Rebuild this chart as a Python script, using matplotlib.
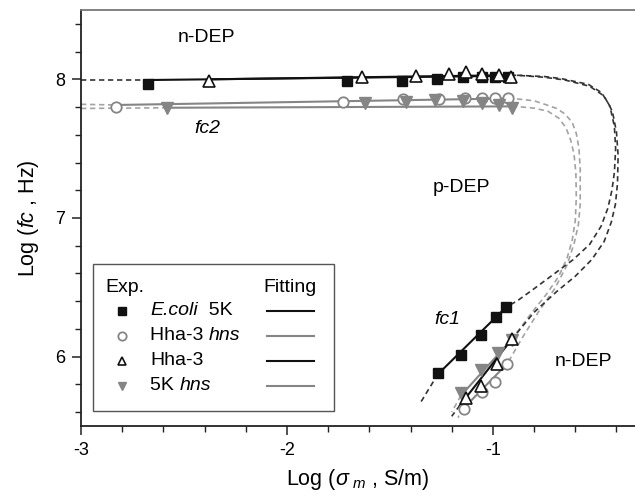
import matplotlib
matplotlib.use("Agg")
import matplotlib.pyplot as plt
from matplotlib.patches import Rectangle
from matplotlib.ticker import MultipleLocator

plt.rcParams["font.family"] = ["Liberation Sans", "DejaVu Sans"]
plt.rcParams["mathtext.fontset"] = "custom"
plt.rcParams["mathtext.rm"] = "Liberation Sans"
plt.rcParams["mathtext.it"] = "Liberation Sans:italic"
plt.rcParams["axes.unicode_minus"] = False

# ---- measured crossover points (log sigma_m, log fc) ----
# E.coli 5K
ecoli_up_x = [-2.676, -1.710, -1.443, -1.270, -1.147, -1.055, -0.990, -0.927]
ecoli_up_y = [7.964, 7.985, 7.990, 8.005, 8.020, 8.020, 8.020, 8.020]
ecoli_lo_x = [-1.266, -1.153, -1.056, -0.987, -0.934]
ecoli_lo_y = [5.882, 6.014, 6.154, 6.284, 6.356]

# Hha-3 hns
hhahns_up_x = [-2.829, -1.727, -1.438, -1.261, -1.137, -1.054, -0.992, -0.927]
hhahns_up_y = [7.803, 7.836, 7.856, 7.860, 7.865, 7.865, 7.865, 7.863]
hhahns_lo_x = [-1.141, -1.055, -0.990, -0.930]
hhahns_lo_y = [5.625, 5.744, 5.816, 5.946]

# Hha-3
hha_up_x = [-2.381, -1.634, -1.374, -1.212, -1.131, -1.055, -0.969, -0.913]
hha_up_y = [7.990, 8.015, 8.025, 8.040, 8.055, 8.040, 8.030, 8.020]
hha_lo_x = [-1.131, -1.058, -0.981, -0.908]
hha_lo_y = [5.700, 5.786, 5.950, 6.126]

# 5K hns
k5hns_up_x = [-2.583, -1.620, -1.424, -1.280, -1.147, -1.054, -0.972, -0.908]
k5hns_up_y = [7.795, 7.832, 7.835, 7.850, 7.843, 7.827, 7.812, 7.795]
k5hns_lo_x = [-1.155, -1.058, -0.973, -0.908]
k5hns_lo_y = [5.740, 5.906, 6.025, 6.123]

# ---- fitted curves ----
# solid part (inside the measured range)
ecoli_fit_up = ([-2.676, -0.927], [7.995, 8.025])
ecoli_fit_lo = ([-1.266, -0.934], [5.875, 6.360])
hhahns_fit_up = ([-2.829, -0.927], [7.815, 7.862])
hhahns_fit_lo = ([-1.141, -0.930], [5.630, 5.950])
hha_fit_up = ([-2.381, -0.913], [8.000, 8.030])
hha_fit_lo = ([-1.160, -0.908], [5.650, 6.126])
k5hns_fit_up = ([-2.583, -0.908], [7.795, 7.805])
k5hns_fit_lo = ([-1.155, -0.908], [5.720, 6.125])

# dashed part (extrapolated model)
ecoli_left = ([-3.0, -2.676], [7.995, 7.995])
ecoli_bend_x = [-0.927, -0.877, -0.750, -0.667, -0.537, -0.472, -0.432, -0.410,
                -0.404, -0.410, -0.422, -0.442, -0.475, -0.530, -0.610, -0.700,
                -0.800, -0.884, -0.934]
ecoli_bend_y = [8.025, 8.029, 8.020, 8.005, 7.964, 7.904, 7.807, 7.660,
                7.500, 7.330, 7.200, 7.070, 6.940, 6.810, 6.700, 6.600,
                6.490, 6.400, 6.360]
ecoli_tail = ([-1.266, -1.310, -1.355], [5.875, 5.770, 5.660])

hha_bend_x = [-0.913, -0.870, -0.750, -0.650, -0.530, -0.460, -0.420, -0.400,
              -0.392, -0.395, -0.405, -0.425, -0.460, -0.520, -0.600, -0.690,
              -0.800, -0.908]
hha_bend_y = [8.030, 8.028, 8.015, 7.995, 7.950, 7.880, 7.770, 7.620,
              7.450, 7.250, 7.100, 6.970, 6.830, 6.700, 6.580, 6.470,
              6.320, 6.126]
hha_tail = ([-1.160, -1.200], [5.650, 5.570])

hhahns_left = ([-3.0, -2.829], [7.820, 7.815])
hhahns_bend_x = [-0.927, -0.877, -0.800, -0.748, -0.690, -0.650, -0.615, -0.595,
                 -0.582, -0.576, -0.576, -0.585, -0.605, -0.640, -0.700, -0.780,
                 -0.860, -0.930]
hhahns_bend_y = [7.862, 7.858, 7.845, 7.820, 7.790, 7.750, 7.690, 7.610,
                 7.500, 7.350, 7.100, 6.950, 6.820, 6.660, 6.490, 6.320,
                 6.130, 5.950]
hhahns_tail = ([-1.141, -1.170], [5.630, 5.560])

k5hns_left = ([-3.0, -2.583], [7.790, 7.795])
k5hns_bend_x = [-0.908, -0.877, -0.800, -0.733, -0.680, -0.645, -0.622, -0.606,
                -0.597, -0.595, -0.600, -0.615, -0.640, -0.680, -0.740, -0.810,
                -0.908]
k5hns_bend_y = [7.805, 7.803, 7.792, 7.770, 7.720, 7.650, 7.560, 7.460,
                7.320, 7.150, 6.980, 6.840, 6.710, 6.580, 6.450, 6.320,
                6.125]
k5hns_tail = ([-1.155, -1.200], [5.720, 5.600])

BLACK = "#111111"
GRAY = "#858585"
DBLACK = "#333333"
DGRAY = "#a3a3a3"

fig = plt.figure(figsize=(6.35, 5.0), dpi=100)
ax = fig.add_axes([0.1276, 0.148, 0.8724, 0.832])

dash = dict(ls=(0, (3.2, 2.2)), lw=1.2)

# dashed model curves (gray first, black on top)
for seg in [hhahns_left, k5hns_left, hhahns_tail, k5hns_tail]:
    ax.plot(*seg, color=DGRAY, **dash)
ax.plot(hhahns_bend_x, hhahns_bend_y, color=DGRAY, **dash)
ax.plot(k5hns_bend_x, k5hns_bend_y, color=DGRAY, **dash)
for seg in [ecoli_left, ecoli_tail, hha_tail]:
    ax.plot(*seg, color=DBLACK, **dash)
ax.plot(ecoli_bend_x, ecoli_bend_y, color=DBLACK, **dash)
ax.plot(hha_bend_x, hha_bend_y, color=DBLACK, **dash)

# solid fits
for seg in [hhahns_fit_up, hhahns_fit_lo, k5hns_fit_up, k5hns_fit_lo]:
    ax.plot(*seg, color=GRAY, lw=1.5)
for seg in [ecoli_fit_up, ecoli_fit_lo, hha_fit_up, hha_fit_lo]:
    ax.plot(*seg, color=BLACK, lw=1.5)

# experimental points
sq = dict(ls="none", marker="s", ms=6.5, mfc=BLACK, mec=BLACK, mew=1.0)
ci = dict(ls="none", marker="o", ms=7.5, mfc="white", mec=GRAY, mew=1.3)
tr = dict(ls="none", marker="^", ms=8, mfc="white", mec=BLACK, mew=1.2)
dn = dict(ls="none", marker="v", ms=8, mfc=GRAY, mec=GRAY, mew=1.0)

ax.plot(ecoli_up_x, ecoli_up_y, **sq)
ax.plot(ecoli_lo_x, ecoli_lo_y, **sq)
ax.plot(hhahns_up_x, hhahns_up_y, **ci)
ax.plot(hhahns_lo_x, hhahns_lo_y, **ci)
ax.plot(k5hns_up_x, k5hns_up_y, **dn)
ax.plot(k5hns_lo_x, k5hns_lo_y, **dn)
ax.plot(hha_up_x, hha_up_y, **tr)
ax.plot(hha_lo_x, hha_lo_y, **tr)

# axes styling
ax.set_xlim(-3.0, -0.31)
ax.set_ylim(5.5, 8.5)
ax.xaxis.set_major_locator(MultipleLocator(1))
ax.xaxis.set_minor_locator(MultipleLocator(0.2))
ax.yaxis.set_major_locator(MultipleLocator(1))
ax.yaxis.set_minor_locator(MultipleLocator(0.2))
ax.tick_params(which="major", direction="out", length=6.5, width=1.1,
               labelsize=13, pad=5, color="#222222")
ax.tick_params(which="minor", direction="out", length=4, width=1.0,
               color="#222222")
ax.spines["right"].set_visible(False)
for s in ["left", "bottom", "top"]:
    ax.spines[s].set_linewidth(1.3)
    ax.spines[s].set_color("#222222")
ax.spines["top"].set_color("#777777")

ax.set_xlabel(r"Log ($\sigma_{\ m}$ , S/m)", fontsize=15.5, labelpad=6)
ax.set_ylabel(r"Log ($\mathit{fc}$ , Hz)", fontsize=15.5, labelpad=10)

# region annotations
ax.text(-2.53, 8.30, "n-DEP", fontsize=14, va="center")
ax.text(-2.45, 7.646, "fc2", fontsize=14, style="italic", va="center")
ax.text(-1.29, 7.22, "p-DEP", fontsize=14, va="center")
ax.text(-1.282, 6.27, "fc1", fontsize=14, style="italic", va="center")
ax.text(-0.70, 5.966, "n-DEP", fontsize=14, va="center")

# hand-made two-column legend (Exp. markers | Fitting lines)
# each label: (italic part, upright part, italic first?)
legend_rows = [
    (sq, [("E.coli", "italic"), ("  5K", "normal")], BLACK),
    (ci, [("Hha-3 ", "normal"), ("hns", "italic")], GRAY),
    (tr, [("Hha-3", "normal")], BLACK),
    (dn, [("5K ", "normal"), ("hns", "italic")], GRAY),
]
tA = ax.transAxes
ax.add_patch(Rectangle((0.0222, 0.0367), 0.4345, 0.3518, transform=tA,
                       fill=False, ec="#555555", lw=1.0))
ax.text(0.0433, 0.333, "Exp.", transform=tA, fontsize=14, va="center")
ax.text(0.3773, 0.333, "Fitting", transform=tA, fontsize=14, va="center",
        ha="center")
row_y = [0.2766, 0.2166, 0.1567, 0.0967]
for (style, parts, lc), yy in zip(legend_rows, row_y):
    st = dict(style)
    st["ms"] = st["ms"] * 0.8
    ax.plot([0.0735], [yy], transform=tA, clip_on=False, **st)
    txt, sty = parts[0]
    prev = ax.text(0.1245, yy, txt, transform=tA, fontsize=14, va="center",
                   style=sty)
    for txt, sty in parts[1:]:
        prev = ax.annotate(txt, xy=(1, 0.5), xycoords=prev, fontsize=14,
                           va="center", ha="left", style=sty)
    ax.plot([0.3357, 0.4206], [yy, yy], transform=tA, color=lc, lw=1.5)

fig.savefig("out.png", dpi=100)
